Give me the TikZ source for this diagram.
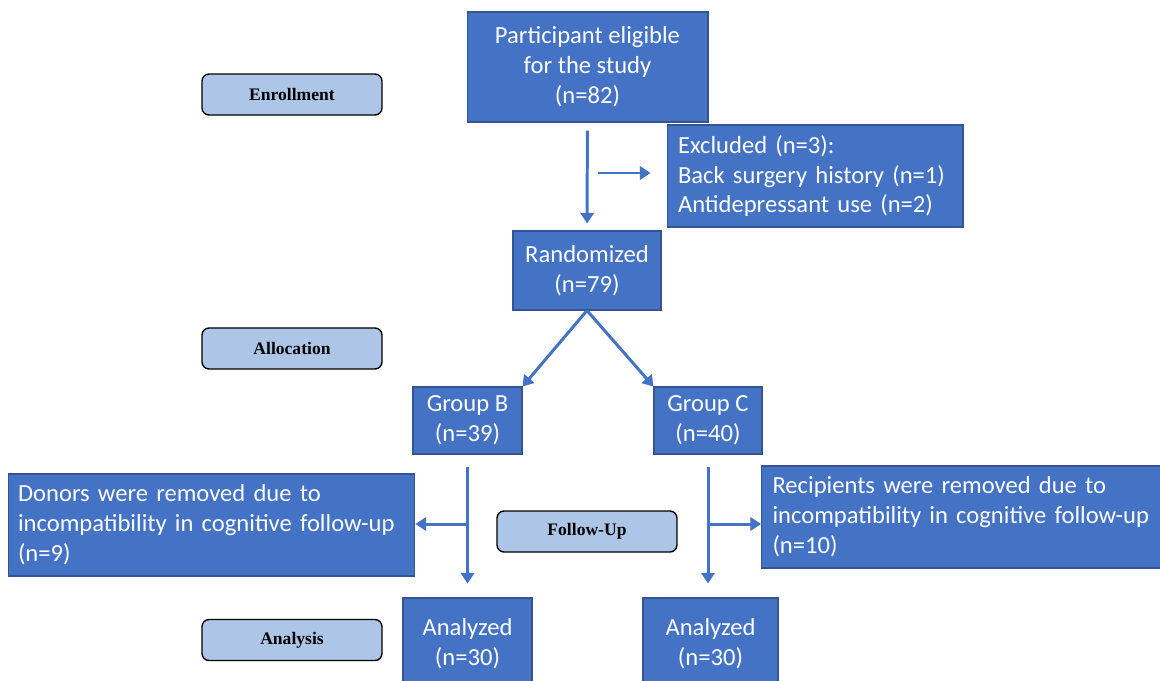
\documentclass[tikz,border=0pt]{standalone}
\usepackage{fontspec}
\setmainfont{Carlito}
\newfontfamily\tagfont{Liberation Serif}
\usepackage{xcolor}
\usetikzlibrary{arrows.meta}
\definecolor{boxblue}{HTML}{4472C4}
\definecolor{tagblue}{HTML}{ADC5E7}

\begin{document}
\begin{tikzpicture}[x=0.02cm, y=-0.02cm,
	box/.style={fill=boxblue, draw=boxblue!75!black, line width=0.6pt, text=white, align=center, inner sep=0pt, font=\fontsize{14}{17}\selectfont},
	leftbox/.style={box, align=left, inner xsep=0.22cm},
	tag/.style={fill=tagblue, draw=black, line width=0.8pt, rounded corners=4pt, minimum width=3.6cm, minimum height=0.82cm, font=\tagfont\bfseries\fontsize{10}{12}\selectfont},
	arr/.style={draw=boxblue, line width=1.7pt, -{Triangle[length=6pt,width=7.5pt]}}]
	\useasboundingbox (0,0) rectangle (1160,680);

	% stage tags on the left
	\node[tag] (enr) at (292,94.5) {Enrollment};
	\node[tag] (alloc) at (292,348.5) {Allocation};
	\node[tag] (foll) at (587,531.5) {Follow-Up};
	\node[tag] (anal) at (292,640) {Analysis};

	% flow boxes
	\node[box, minimum width=4.82cm, minimum height=2.2cm] (part) at (587.5,67) {Participant eligible\\for the study\\(n=82)};
	\node[leftbox, text width=5.48cm, minimum height=2.04cm] (excl) at (815,176) {Excluded (n=3):\\Back surgery history (n=1)\\Antidepressant use (n=2)};
	\node[box, minimum width=2.96cm, minimum height=1.58cm] (rand) at (587,270.5) {Randomized\\(n=79)};

	\node[box, minimum width=2.18cm, minimum height=1.34cm] (grpB) at (467.5,420.5) {Group B\\(n=39)};
	\node[box, minimum width=2.16cm, minimum height=1.34cm] (grpC) at (708,420.5) {Group C\\(n=40)};

	\node[leftbox, inner xsep=0.2cm, text width=7.74cm, minimum height=2.04cm] (donor) at (211.5,525) {Donors were removed due to\\incompatibility in cognitive follow-up\\(n=9)};
	\node[leftbox, text width=7.58cm, minimum height=2.04cm] (recip) at (962,517) {Recipients were removed due to\\incompatibility in cognitive follow-up\\(n=10)};

	\node[box, minimum width=2.58cm, minimum height=1.84cm] (anlB) at (467.5,644) {Analyzed\\(n=30)};
	\node[box, minimum width=2.7cm, minimum height=1.84cm] (anlC) at (710.5,644) {Analyzed\\(n=30)};

	% arrows
	\coordinate (exbr) at (589,173);
	\coordinate (brB) at (467.5,524);
	\coordinate (brC) at (708,524);

	\draw[arr, shorten <=0.16cm, shorten >=0.14cm] (part) -- (rand);
	\draw[arr, shorten <=0.18cm, shorten >=0.32cm] (exbr) -- (exbr -| excl.west);
	\draw[arr] (rand.south) -- (grpB.north east);
	\draw[arr] (rand.south) -- (grpC.north west);
	\draw[arr, shorten <=0.24cm, shorten >=0.28cm] (grpB) -- (anlB);
	\draw[arr, shorten <=0.24cm, shorten >=0.28cm] (grpC.south) -- (grpC.south |- anlC.north);
	\draw[arr] (brB) -- (brB -| donor.east);
	\draw[arr] (brC) -- (brC -| recip.west);
\end{tikzpicture}
\end{document}
